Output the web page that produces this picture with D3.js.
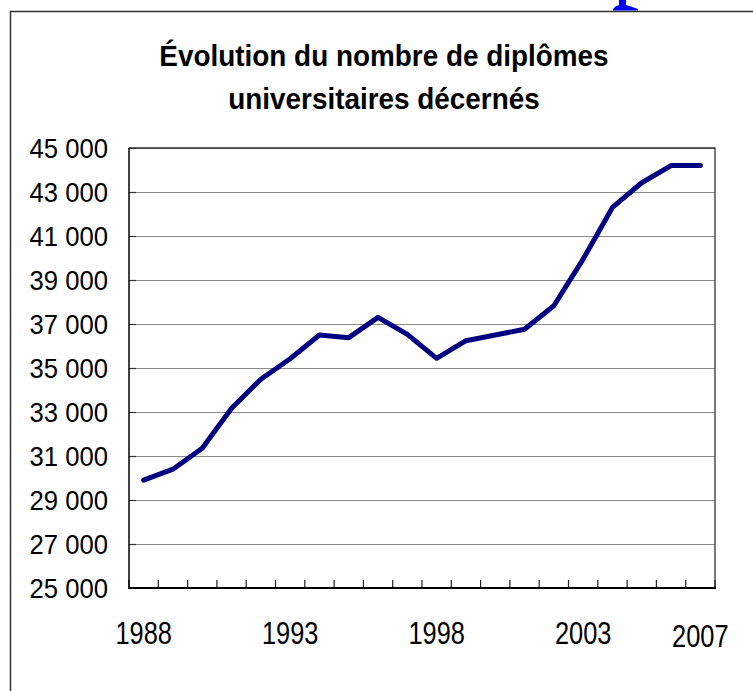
<!DOCTYPE html>
<html>
<head>
<meta charset="utf-8">
<script src="https://cdn.jsdelivr.net/npm/d3@7"></script>
<style>
  body { margin: 0; background: #fff; }
  svg { display: block; }
  text { font-family: "Liberation Sans", Arial, sans-serif; fill: #000; }
</style>
</head>
<body>
<script>
// data
let years = ['1988', '1989', '1990', '1991', '1992', '1993', '1994', '1995', '1996', '1997',
             '1998', '1999', '2000', '2001', '2002', '2003', '2004', '2005', '2006', '2007'];
let diplomas = [29900, 30400, 31350, 33170, 34490, 35420, 36500, 36380, 37300, 36530,
                35440, 36240, 36500, 36760, 37830, 39950, 42300, 43420, 44200, 44200];
let yTicks = [25000, 27000, 29000, 31000, 33000, 35000, 37000, 39000, 41000, 43000, 45000];
let xLabels = ['1988', '1993', '1998', '2003', '2007'];
let titleLines = ['Évolution du nombre de diplômes', 'universitaires décernés'];

let W = 753, H = 691;
let plot = {left: 129, right: 715, top: 148, bottom: 588};

let fr = d3.formatLocale({decimal: ',', thousands: ' ', grouping: [3], currency: ['', ' €']});
let fmt = fr.format(',');

let svg = d3.select('body').append('svg')
    .attr('width', W)
    .attr('height', H);

// outer frame (runs off the right and bottom of the picture)
svg.append('path')
    .attr('d', 'M10.5,' + H + 'V11.5H' + W)
    .attr('fill', 'none')
    .attr('stroke', '#333')
    .attr('stroke-width', 1.5);

// cut-off blue glyph above the frame
svg.append('path')
    .attr('d', 'M619,0H626V5Q630,6 638,9V10.5H613V9Q615,6 619,5Z')
    .attr('fill', '#0000ff');

let x = d3.scaleBand()
    .domain(years)
    .range([plot.left, plot.right])
    .padding(0);

let y = d3.scaleLinear()
    .domain([25000, 45000])
    .range([plot.bottom, plot.top]);

// gridlines
svg.append('g')
    .attr('transform', 'translate(' + plot.left + ',0)')
    .call(d3.axisRight(y).tickValues(yTicks).tickSize(plot.right - plot.left).tickFormat(''))
    .call(g => g.select('.domain').remove())
    .call(g => g.selectAll('line').attr('stroke', '#8c8c8c').attr('stroke-width', 1.2));

// inside tick marks on y axis
svg.append('g')
    .attr('transform', 'translate(' + plot.left + ',0)')
    .call(d3.axisRight(y).tickValues(yTicks).tickSize(7).tickFormat(''))
    .call(g => g.select('.domain').remove())
    .call(g => g.selectAll('line').attr('stroke', '#333').attr('stroke-width', 1.2));

// top and right border of plot area
svg.append('path')
    .attr('d', 'M' + plot.left + ',' + plot.top + 'H' + plot.right + 'V' + plot.bottom)
    .attr('fill', 'none')
    .attr('stroke', '#333')
    .attr('stroke-width', 1.3);

// y labels
svg.append('g')
  .selectAll('text')
  .data(yTicks)
  .enter().append('text')
    .attr('transform', d => 'translate(108,' + (y(d) + 10) + ') scale(0.9,1)')
    .attr('text-anchor', 'end')
    .attr('font-size', 28.5)
    .text(d => fmt(d));

// category boundary ticks on the x axis
let bounds = years.map(d => x(d)).concat([x(years[years.length - 1]) + x.bandwidth()]);
svg.append('g')
  .selectAll('line')
  .data(bounds)
  .enter().append('line')
    .attr('x1', d => d).attr('x2', d => d)
    .attr('y1', plot.bottom).attr('y2', plot.bottom - 8)
    .attr('stroke', '#222')
    .attr('stroke-width', 1.2);

// axes lines
svg.append('line')
    .attr('x1', plot.left).attr('x2', plot.left)
    .attr('y1', plot.top).attr('y2', plot.bottom)
    .attr('stroke', '#000').attr('stroke-width', 1.5);
svg.append('line')
    .attr('x1', plot.left - 1).attr('x2', plot.right + 1)
    .attr('y1', plot.bottom).attr('y2', plot.bottom)
    .attr('stroke', '#000').attr('stroke-width', 2);

// x labels
svg.append('g')
  .selectAll('text')
  .data(xLabels)
  .enter().append('text')
    .attr('transform', d => 'translate(' + (x(d) + x.bandwidth() / 2) + ',' + (d === '2007' ? 647 : 644) + ') scale(0.82,1)')
    .attr('text-anchor', 'middle')
    .attr('font-size', 31)
    .text(d => d);

// the line
let line = d3.line()
    .x((d, i) => x(years[i]) + x.bandwidth() / 2)
    .y(d => y(d));

svg.append('path')
    .datum(diplomas)
    .attr('d', line)
    .attr('fill', 'none')
    .attr('stroke', '#000080')
    .attr('stroke-width', 5)
    .attr('stroke-linejoin', 'round')
    .attr('stroke-linecap', 'round');

// title
svg.append('g')
  .selectAll('text')
  .data(titleLines)
  .enter().append('text')
    .attr('transform', (d, i) => 'translate(384,' + (66 + i * 43) + ') scale(0.93,1)')
    .attr('text-anchor', 'middle')
    .attr('font-size', 30)
    .attr('font-weight', 'bold')
    .text(d => d);
</script>
</body>
</html>
